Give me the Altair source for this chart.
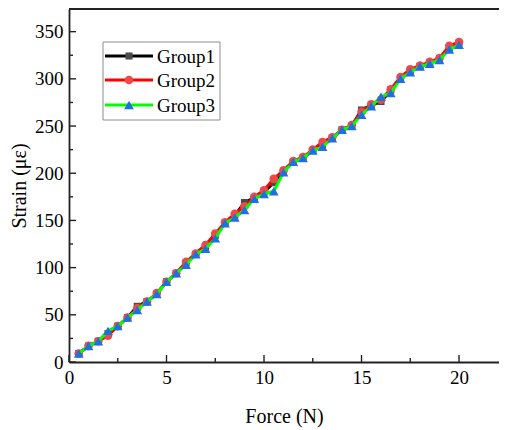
import altair as alt
import pandas as pd

force = [0.5, 1, 1.5, 2, 2.5, 3, 3.5, 4, 4.5, 5, 5.5, 6, 6.5, 7, 7.5, 8, 8.5, 9, 9.5, 10,
         10.5, 11, 11.5, 12, 12.5, 13, 13.5, 14, 14.5, 15, 15.5, 16, 16.5, 17, 17.5, 18, 18.5, 19, 19.5, 20]
group1 = [9, 17, 22, 30, 38, 47, 59, 64, 72, 85, 94, 105, 114, 122, 134, 147, 155, 169, 174, 180,
          190, 202, 212, 216, 224, 230, 237, 246, 250, 267, 272, 276, 288, 301, 308, 313, 317, 321, 333, 338]
group2 = [9, 17, 22, 28, 38, 47, 57, 64, 73, 85, 94, 106, 115, 124, 136, 148, 157, 165, 175, 182,
          194, 203, 213, 217, 225, 233, 238, 246, 251, 265, 273, 278, 289, 302, 310, 314, 318, 322, 335, 339]
group3 = [9, 17, 22, 33, 38, 47, 55, 64, 72, 85, 94, 103, 114, 120, 131, 147, 153, 161, 173, 178,
          181, 201, 212, 216, 224, 228, 237, 246, 250, 262, 271, 281, 285, 300, 307, 313, 316, 320, 331, 336]

groups = ["Group1", "Group2", "Group3"]
line_colors = ["#000000", "#ff0000", "#00ff00"]
marker_colors = ["#4a4a4a", "#f04848", "#1f6fe0"]
marker_shapes = ["square", "circle", "triangle-up"]
marker_sizes = [50, 75, 95]

x_major = [0, 5, 10, 15, 20]
x_minor = [2.5, 7.5, 12.5, 17.5]
y_major = [0, 50, 100, 150, 200, 250, 300, 350]
y_minor = [25, 75, 125, 175, 225, 275, 325]

W, H = 430, 353
FONT = "Liberation Serif"

xscale = alt.Scale(domain=[0, 22.05], nice=False, zero=False)
yscale = alt.Scale(domain=[0, 374], nice=False, zero=False)

xaxis = alt.Axis(values=x_major, ticks=False, grid=False, labelFont=FONT, labelFontSize=19,
                 labelColor="#000", labelPadding=6, titleFont=FONT, titleFontSize=20,
                 titleFontWeight="normal", titleColor="#000", titlePadding=19,
                 domainColor="#222", domainWidth=1.8, labelFlush=False)
yaxis = alt.Axis(values=y_major, ticks=False, grid=False, labelFont=FONT, labelFontSize=19,
                 labelColor="#000", labelPadding=6, titleFont=FONT, titleFontSize=20,
                 titleFontWeight="normal", titleColor="#000", titlePadding=5,
                 domainColor="#222", domainWidth=1.8, labelFlush=False)

series = [group1, group2, group3]
layers = []
for i, g in enumerate(groups):
    df = pd.DataFrame({"Force": force, "Strain": series[i]})
    base = alt.Chart(df)
    line = base.mark_line(color=line_colors[i], strokeWidth=3).encode(
        x=alt.X("Force:Q", scale=xscale, axis=xaxis, title="Force (N)"),
        y=alt.Y("Strain:Q", scale=yscale, axis=yaxis, title="Strain (\u03bc\u03b5)"),
    )
    pts = base.mark_point(filled=True, shape=marker_shapes[i], size=marker_sizes[i],
                          color=marker_colors[i], opacity=1).encode(
        x=alt.X("Force:Q", scale=xscale),
        y=alt.Y("Strain:Q", scale=yscale),
    )
    layers += [line, pts]

# inward ticks
tx_major = alt.Chart(pd.DataFrame({"v": x_major})).mark_rule(color="#222", strokeWidth=1.4).encode(
    x=alt.X("v:Q", scale=xscale), y=alt.value(H), y2=alt.value(H - 7))
tx_minor = alt.Chart(pd.DataFrame({"v": x_minor})).mark_rule(color="#222", strokeWidth=1.4).encode(
    x=alt.X("v:Q", scale=xscale), y=alt.value(H), y2=alt.value(H - 4))
ty_major = alt.Chart(pd.DataFrame({"v": y_major})).mark_rule(color="#222", strokeWidth=1.4).encode(
    y=alt.Y("v:Q", scale=yscale), x=alt.value(0), x2=alt.value(7))
ty_minor = alt.Chart(pd.DataFrame({"v": y_minor})).mark_rule(color="#222", strokeWidth=1.4).encode(
    y=alt.Y("v:Q", scale=yscale), x=alt.value(0), x2=alt.value(4))

# top frame line (right side of the frame lies beyond the picture)
top_line = alt.Chart(pd.DataFrame({"g": ["frame"]})).mark_rule(color="#222", strokeWidth=1.8).encode(
    x=alt.value(0), x2=alt.value(W), y=alt.value(0))

# legend
leg_df = pd.DataFrame({"g": ["legend"]})
legend_layers = [
    alt.Chart(leg_df).mark_rect(fill="#ffffff", stroke="#8c8c8c", strokeWidth=1).encode(
        x=alt.value(34), x2=alt.value(151), y=alt.value(33), y2=alt.value(111))
]
leg_y = [47, 71, 96]
for i, g in enumerate(groups):
    d = pd.DataFrame({"label": [g]})
    legend_layers.append(alt.Chart(d).mark_rule(color=line_colors[i], strokeWidth=3).encode(
        x=alt.value(36), x2=alt.value(84), y=alt.value(leg_y[i])))
    legend_layers.append(alt.Chart(d).mark_point(filled=True, shape=marker_shapes[i],
                                                 size=marker_sizes[i], color=marker_colors[i], opacity=1).encode(
        x=alt.value(60), y=alt.value(leg_y[i])))
    legend_layers.append(alt.Chart(d).mark_text(font=FONT, fontSize=19, align="left", baseline="middle",
                                                color="#000").encode(
        x=alt.value(88), y=alt.value(leg_y[i] + 1), text="label:N"))

chart = alt.layer(*layers, tx_major, tx_minor, ty_major, ty_minor, top_line, *legend_layers).properties(
    width=W, height=H,
    autosize=alt.AutoSizeParams(type="none"),
    padding={"left": 61, "top": 1, "right": 0, "bottom": 68},
    background="#ffffff",
).configure_view(strokeWidth=0)

chart.save("out.html", embed_options={"renderer": "svg", "actions": False})
